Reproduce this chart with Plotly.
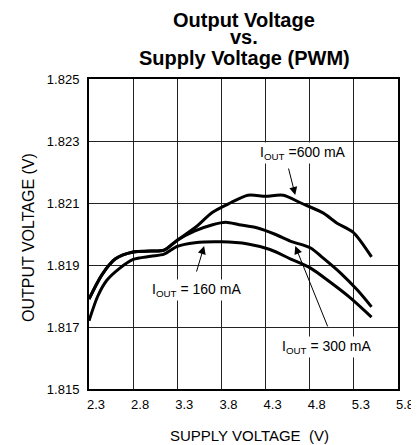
import plotly.graph_objects as go

# Data
v_600 = [2.30, 2.45, 2.60, 2.80, 3.00, 3.15, 3.30, 3.50, 3.70, 3.90, 4.10, 4.30, 4.50, 4.70, 4.95, 5.11, 5.29, 5.50]
y_600 = [1.8179, 1.8187, 1.8192, 1.81942, 1.81945, 1.81948, 1.8198, 1.8202, 1.8207, 1.8210, 1.82125, 1.82122, 1.82125, 1.8210, 1.82068, 1.82035, 1.82006, 1.81926]

v_300 = [2.30, 2.45, 2.60, 2.80, 3.00, 3.15, 3.30, 3.50, 3.70, 3.85, 4.00, 4.20, 4.40, 4.58, 4.81, 4.95, 5.15, 5.34, 5.50]
y_300 = [1.8179, 1.8187, 1.8192, 1.81942, 1.81945, 1.81948, 1.8198, 1.8201, 1.8203, 1.82038, 1.8203, 1.8202, 1.8200, 1.81977, 1.81955, 1.81923, 1.81874, 1.81819, 1.81765]

v_160 = [2.30, 2.40, 2.50, 2.65, 2.80, 3.00, 3.15, 3.30, 3.50, 3.80, 4.10, 4.35, 4.58, 4.81, 5.03, 5.26, 5.50]
y_160 = [1.8172, 1.8180, 1.8185, 1.8189, 1.81918, 1.81928, 1.81935, 1.8196, 1.81972, 1.81975, 1.81968, 1.8195, 1.8192, 1.8189, 1.81845, 1.81794, 1.81732]

x_ticks = [2.3, 2.8, 3.3, 3.8, 4.3, 4.8, 5.3, 5.8]
y_ticks = [1.815, 1.817, 1.819, 1.821, 1.823, 1.825]

FONT = "Liberation Sans, Arial, sans-serif"

fig = go.Figure()
for vx, vy in [(v_600, y_600), (v_300, y_300), (v_160, y_160)]:
    fig.add_trace(go.Scatter(x=vx, y=vy, mode="lines",
                             line=dict(color="black", width=3, shape="spline", smoothing=0.8),
                             showlegend=False, hoverinfo="skip"))

# The page places the figure at an 8px body margin; compensate.
OFF = 8
WIN_W, WIN_H = 419, 445
W, H = WIN_W - OFF, WIN_H - OFF
# plot area in window pixels: x 89..398, y 79..389
L, T = 89 - OFF, 79 - OFF
R, B = WIN_W - 398, WIN_H - 389
pw, ph = W - L - R, H - T - B

def px(x):
    """window pixel x -> paper"""
    return (x - 89) / pw

def py(y):
    """window pixel y -> paper"""
    return (389 - y) / ph

annotations = []
# Title lines
for txt, yy in [("Output Voltage", 19.5), ("vs.", 36.8), ("Supply Voltage (PWM)", 58)]:
    annotations.append(dict(text=f"<b>{txt}</b>", x=px(244), y=py(yy), xref="paper", yref="paper",
                            xanchor="center", yanchor="middle", showarrow=False,
                            font=dict(family=FONT, size=20, color="black")))
# Axis titles
annotations.append(dict(text="SUPPLY VOLTAGE  (V)", x=px(249), y=py(435), xref="paper", yref="paper",
                        xanchor="center", yanchor="middle", showarrow=False,
                        font=dict(family=FONT, size=15, color="black")))
annotations.append(dict(text="OUTPUT VOLTAGE (V)", x=px(28), y=py(238), xref="paper", yref="paper",
                        xanchor="center", yanchor="middle", showarrow=False, textangle=-90,
                        font=dict(family=FONT, size=16, color="black")))

# Labels
labels = [("I<sub>OUT</sub> =600 mA", 4.726, 1.82261),
          ("I<sub>OUT</sub> = 160 mA", 3.513, 1.81819),
          ("I<sub>OUT</sub> = 300 mA", 4.987, 1.81635)]
for txt, lx, ly in labels:
    annotations.append(dict(text=txt, x=lx, y=ly, xref="x", yref="y", showarrow=False,
                            bgcolor="white", borderpad=1,
                            font=dict(family=FONT, size=14, color="black")))
# Arrows (tail -> head)
arrows = [((4.556, 1.82216), (4.636, 1.82126)),
          ((3.513, 1.81874), (3.604, 1.81961)),
          ((5.010, 1.81697), (4.636, 1.81961))]
for (tx, ty), (hx, hy) in arrows:
    annotations.append(dict(text="", x=hx, y=hy, ax=tx, ay=ty, xref="x", yref="y",
                            axref="x", ayref="y", showarrow=True, arrowhead=2,
                            arrowsize=1.6, arrowwidth=1, arrowcolor="black", standoff=0))

fig.update_layout(
    width=W, height=H,
    margin=dict(l=L, r=R, t=T, b=B),
    paper_bgcolor="white", plot_bgcolor="white",
    font=dict(family=FONT, color="black"),
    annotations=annotations,
    xaxis=dict(range=[2.3, 5.8], tickvals=x_ticks, ticktext=[f"{v:.1f}" for v in x_ticks],
               showgrid=True, gridcolor="#222", gridwidth=1, zeroline=False, automargin=False,
               showline=True, linecolor="black", linewidth=2, mirror=True,
               ticks="", ticklabelshift=7, ticklabelstandoff=2,
               tickfont=dict(family=FONT, size=13, color="black")),
    yaxis=dict(range=[1.815, 1.825], tickvals=y_ticks, ticktext=[f"{v:.3f}" for v in y_ticks],
               showgrid=True, gridcolor="#222", gridwidth=1, zeroline=False, automargin=False,
               showline=True, linecolor="black", linewidth=2, mirror=True,
               ticks="", ticklabelstandoff=5,
               tickfont=dict(family=FONT, size=13, color="black")),
)

fig.write_html("out.html")
